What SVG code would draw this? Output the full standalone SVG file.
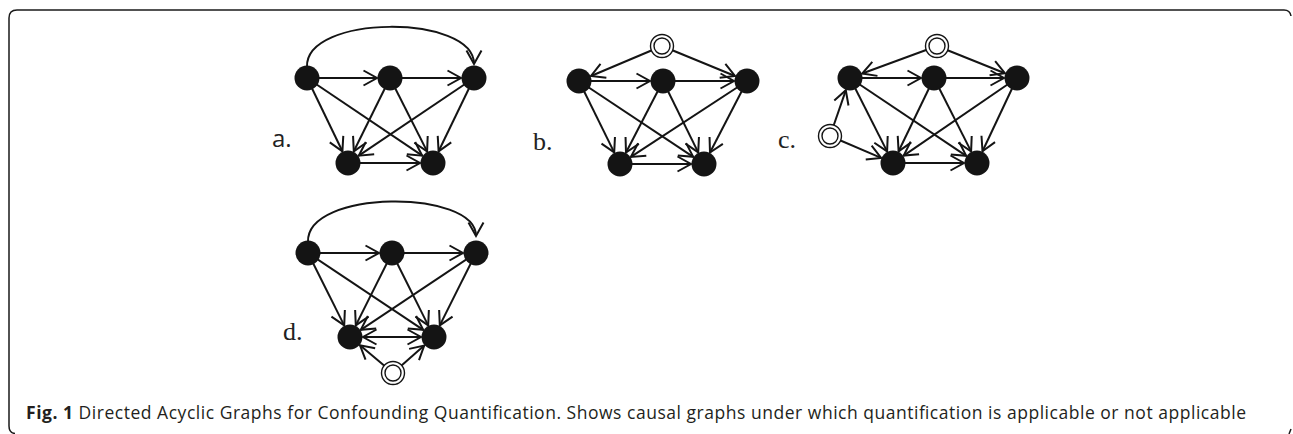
<svg xmlns="http://www.w3.org/2000/svg" width="1293" height="434" viewBox="0 0 1293 434">
<defs>
<style>
.e{fill:none;stroke:#141414;stroke-width:2;marker-end:url(#ah)}
.n{fill:#141414}
.u{fill:#fff;stroke:#141414;stroke-width:1.4}
.ls{font-family:"Open Sans","Liberation Sans",sans-serif;font-size:24px;fill:#222}
.lt{font-family:"Liberation Serif","Times New Roman",serif;font-size:26px;fill:#222}
.cap{font-family:"Open Sans","Liberation Sans",sans-serif;font-size:17.5px;fill:#231f20}
</style>
<marker id="ah" markerUnits="userSpaceOnUse" markerWidth="30" markerHeight="30" refX="0" refY="0" orient="auto-start-reverse" viewBox="-15 -15 30 30">
<path d="M-13.5,-7.5 L0,0 L-13.5,7.5" fill="none" stroke="#141414" stroke-width="2"/>
</marker>
</defs>
<rect width="1293" height="434" fill="#fff"/>
<path id="frame" d="M15,433.5 Q9,433 9,426 L9,18 Q9,10 17,10 L1284,10 Q1290,10 1291,16 M1289,434 L1291,429" fill="none" stroke="#1a1a1a" stroke-width="1.5"/>
<g id="connectors">
<!-- a -->
<line class="e" x1="307" y1="78" x2="377" y2="78"/>
<line class="e" x1="390" y1="78" x2="461" y2="78"/>
<line class="e" x1="307" y1="78" x2="342.4" y2="151.3"/>
<line class="e" x1="307" y1="78" x2="422.2" y2="155.7"/>
<line class="e" x1="390" y1="78" x2="353.8" y2="151.3"/>
<line class="e" x1="390" y1="78" x2="427.1" y2="151.4"/>
<line class="e" x1="474" y1="78" x2="358.8" y2="155.7"/>
<line class="e" x1="474" y1="78" x2="438.6" y2="151.3"/>
<line class="e" x1="348" y1="163" x2="420" y2="163"/>
<path class="e" d="M307,67 C305,14 474,14 474,64"/>
<!-- b -->
<line class="e" x1="662" y1="46" x2="591" y2="76"/>
<line class="e" x1="662" y1="46" x2="735" y2="76"/>
<line class="e" x1="579" y1="81" x2="650" y2="81"/>
<line class="e" x1="663" y1="81" x2="734" y2="81"/>
<line class="e" x1="579" y1="81" x2="614.2" y2="152.4"/>
<line class="e" x1="579" y1="81" x2="693.2" y2="156.8"/>
<line class="e" x1="663" y1="81" x2="626" y2="152.5"/>
<line class="e" x1="663" y1="81" x2="698.2" y2="152.4"/>
<line class="e" x1="747" y1="81" x2="630.9" y2="156.9"/>
<line class="e" x1="747" y1="81" x2="710" y2="152.5"/>
<line class="e" x1="620" y1="164" x2="691" y2="164"/>
<!-- c -->
<line class="e" x1="937" y1="46" x2="862.2" y2="73.5"/>
<line class="e" x1="937" y1="46" x2="1004.9" y2="73.2"/>
<line class="e" x1="830" y1="136" x2="845.8" y2="90.3"/>
<line class="e" x1="830" y1="136" x2="881.1" y2="157.9"/>
<line class="e" x1="850" y1="78" x2="921" y2="78"/>
<line class="e" x1="934" y1="78" x2="1004" y2="78"/>
<line class="e" x1="850" y1="78" x2="887.1" y2="151.4"/>
<line class="e" x1="850" y1="78" x2="966.2" y2="155.8"/>
<line class="e" x1="934" y1="78" x2="898.6" y2="151.3"/>
<line class="e" x1="934" y1="78" x2="971.1" y2="151.4"/>
<line class="e" x1="1017" y1="78" x2="903.7" y2="155.6"/>
<line class="e" x1="1017" y1="78" x2="982.5" y2="151.2"/>
<line class="e" x1="893" y1="163" x2="964" y2="163"/>
<!-- d -->
<line class="e" x1="308" y1="253" x2="379" y2="253"/>
<line class="e" x1="392" y1="253" x2="463" y2="253"/>
<line class="e" x1="308" y1="253" x2="344.2" y2="325.4"/>
<line class="e" x1="308" y1="253" x2="423.2" y2="329.8"/>
<line class="e" x1="392" y1="253" x2="355.8" y2="325.4"/>
<line class="e" x1="392" y1="253" x2="428.2" y2="325.4"/>
<line class="e" x1="476" y1="253" x2="360.8" y2="329.8"/>
<line class="e" x1="476" y1="253" x2="439.8" y2="325.4"/>
<line class="e" x1="363" y1="337" x2="421" y2="337" style="marker-start:url(#ah)"/>
<line class="e" x1="393" y1="373" x2="360" y2="345.3"/>
<line class="e" x1="393" y1="373" x2="424.2" y2="345.6"/>
<path class="e" d="M308,242 C306,189 476,189 476,236"/>
</g>
<g id="graph-a">
<circle id="a1" class="n" cx="307" cy="78" r="12.5"/>
<circle id="a2" class="n" cx="390" cy="78" r="12.5"/>
<circle id="a3" class="n" cx="474" cy="78" r="12.5"/>
<circle id="a4" class="n" cx="348" cy="163" r="12.5"/>
<circle id="a5" class="n" cx="433" cy="163" r="12.5"/>
<text id="label-a" class="ls" x="272" y="147">a.</text>
</g>
<g id="graph-b">
<g id="b-u"><circle class="u" cx="662" cy="46" r="11.5"/><circle class="u" cx="662" cy="46" r="8"/></g>
<circle id="b1" class="n" cx="579" cy="81" r="12.5"/>
<circle id="b2" class="n" cx="663" cy="81" r="12.5"/>
<circle id="b3" class="n" cx="747" cy="81" r="12.5"/>
<circle id="b4" class="n" cx="620" cy="164" r="12.5"/>
<circle id="b5" class="n" cx="704" cy="164" r="12.5"/>
<text id="label-b" class="lt" x="533" y="150">b.</text>
</g>
<g id="graph-c">
<g id="c-u"><circle class="u" cx="937" cy="46" r="11.5"/><circle class="u" cx="937" cy="46" r="8"/></g>
<g id="c-l"><circle class="u" cx="830" cy="136" r="11.5"/><circle class="u" cx="830" cy="136" r="8"/></g>
<circle id="c1" class="n" cx="850" cy="78" r="12.5"/>
<circle id="c2" class="n" cx="934" cy="78" r="12.5"/>
<circle id="c3" class="n" cx="1017" cy="78" r="12.5"/>
<circle id="c4" class="n" cx="893" cy="163" r="12.5"/>
<circle id="c5" class="n" cx="977" cy="163" r="12.5"/>
<text id="label-c" class="lt" x="778" y="148">c.</text>
</g>
<g id="graph-d">
<g id="d-w"><circle class="u" cx="393" cy="373" r="11.5"/><circle class="u" cx="393" cy="373" r="8"/></g>
<circle id="d1" class="n" cx="308" cy="253" r="12.5"/>
<circle id="d2" class="n" cx="392" cy="253" r="12.5"/>
<circle id="d3" class="n" cx="476" cy="253" r="12.5"/>
<circle id="d4" class="n" cx="350" cy="337" r="12.5"/>
<circle id="d5" class="n" cx="434" cy="337" r="12.5"/>
<text id="label-d" class="lt" x="283" y="340">d.</text>
</g>
<text id="caption" class="cap" x="26" y="419" textLength="1220" lengthAdjust="spacing"><tspan font-weight="bold">Fig. 1</tspan> Directed Acyclic Graphs for Confounding Quantification. Shows causal graphs under which quantification is applicable or not applicable</text>
</svg>
